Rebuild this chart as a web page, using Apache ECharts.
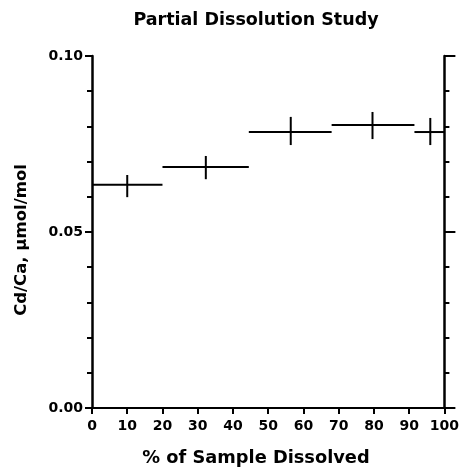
<!DOCTYPE html>
<html>
<head>
<meta charset="utf-8">
<script src="https://cdn.jsdelivr.net/npm/echarts@6/dist/echarts.min.js"></script>
<style>html,body{margin:0;padding:0;background:#fff}#c{width:462px;height:467px}</style>
</head>
<body>
<div id="c"></div>
<script>
// Horizontal segments: fraction of sample dissolved (start, end) and Cd/Ca value
var segStart = [0, 20, 44.5, 68, 91.5];
var segEnd   = [20, 44.5, 68, 91.5, 100];
var segValue = [0.0634, 0.0685, 0.0784, 0.0804, 0.0784];
// Error bars: x position, low and high values
var errX    = [10, 32.3, 56.4, 79.6, 96];
var errLow  = [0.0599, 0.0650, 0.0747, 0.0764, 0.0747];
var errHigh = [0.0662, 0.0716, 0.0827, 0.0841, 0.0824];
var xTicks = [0,10,20,30,40,50,60,70,80,90,100];
var yTickLabels = {0: '0.00', 0.05: '0.05', 0.1: '0.10'};

var segData = segStart.map(function(s, i){ return [s, segEnd[i], segValue[i]]; });
var errData = errX.map(function(x, i){ return [x, errLow[i], errHigh[i]]; });

var FONT = 'DejaVu Sans';
var chart = echarts.init(document.getElementById('c'));
var yCommon = {
  type: 'value', min: 0, max: 0.1, interval: 0.05,
  splitLine: {show: false},
  axisLine: {show: true, lineStyle: {color: '#000', width: 2.5}},
  minorTick: {show: true, splitNumber: 5, length: 5, lineStyle: {color: '#000', width: 2}},
  minorSplitLine: {show: false}
};
chart.setOption({
  animation: false,
  backgroundColor: '#fff',
  grid: {left: 92, right: 17, top: 56, bottom: 59},
  xAxis: {
    type: 'value', min: 0, max: 100, interval: 10,
    splitLine: {show: false},
    axisLine: {show: true, onZero: false, lineStyle: {color: '#000', width: 2}},
    axisTick: {show: true, length: 6, lineStyle: {color: '#000', width: 2}},
    axisLabel: {
      margin: 11, color: '#000', fontFamily: FONT, fontWeight: 'bold', fontSize: 14,
      formatter: function(v){ return xTicks.indexOf(v) >= 0 ? String(v) : ''; }
    }
  },
  yAxis: [
    Object.assign({}, yCommon, {
      position: 'left',
      axisTick: {show: true, length: 7, lineStyle: {color: '#000', width: 2}},
      axisLabel: {
        margin: 9, color: '#000', fontFamily: FONT, fontWeight: 'bold', fontSize: 14,
        formatter: function(v){ var k = Math.round(v*100)/100; return yTickLabels[k] || ''; }
      }
    }),
    Object.assign({}, yCommon, {
      position: 'right',
      axisTick: {show: true, length: 11, lineStyle: {color: '#000', width: 2}},
      axisLabel: {show: false}
    })
  ],
  graphic: [
    {type: 'text', x: 256, y: 20, style: {
      text: 'Partial Dissolution Study', fill: '#000', font: 'bold 17.5px "DejaVu Sans"',
      textAlign: 'center', textVerticalAlign: 'middle'}},
    {type: 'text', x: 22, y: 240, rotation: Math.PI/2, style: {
      text: 'Cd/Ca, \u00b5mol/mol', fill: '#000', font: 'bold 16.5px "DejaVu Sans"',
      textAlign: 'center', textVerticalAlign: 'middle'}},
    {type: 'text', x: 256, y: 458, style: {
      text: '% of Sample Dissolved', fill: '#000', font: 'bold 17.8px "DejaVu Sans"',
      textAlign: 'center', textVerticalAlign: 'middle'}}
  ],
  series: [
    {
      type: 'custom', coordinateSystem: 'cartesian2d', data: segData,
      encode: {x: [0, 1], y: 2},
      renderItem: function(params, api){
        var p1 = api.coord([api.value(0), api.value(2)]);
        var p2 = api.coord([api.value(1), api.value(2)]);
        return {type: 'line', shape: {x1: p1[0], y1: p1[1], x2: p2[0], y2: p2[1]},
          style: {stroke: '#000', lineWidth: 2}};
      }
    },
    {
      type: 'custom', coordinateSystem: 'cartesian2d', data: errData,
      encode: {x: 0, y: [1, 2]},
      renderItem: function(params, api){
        var p1 = api.coord([api.value(0), api.value(1)]);
        var p2 = api.coord([api.value(0), api.value(2)]);
        return {type: 'line', shape: {x1: p1[0], y1: p1[1], x2: p2[0], y2: p2[1]},
          style: {stroke: '#000', lineWidth: 2}};
      }
    }
  ]
});
</script>
</body>
</html>
